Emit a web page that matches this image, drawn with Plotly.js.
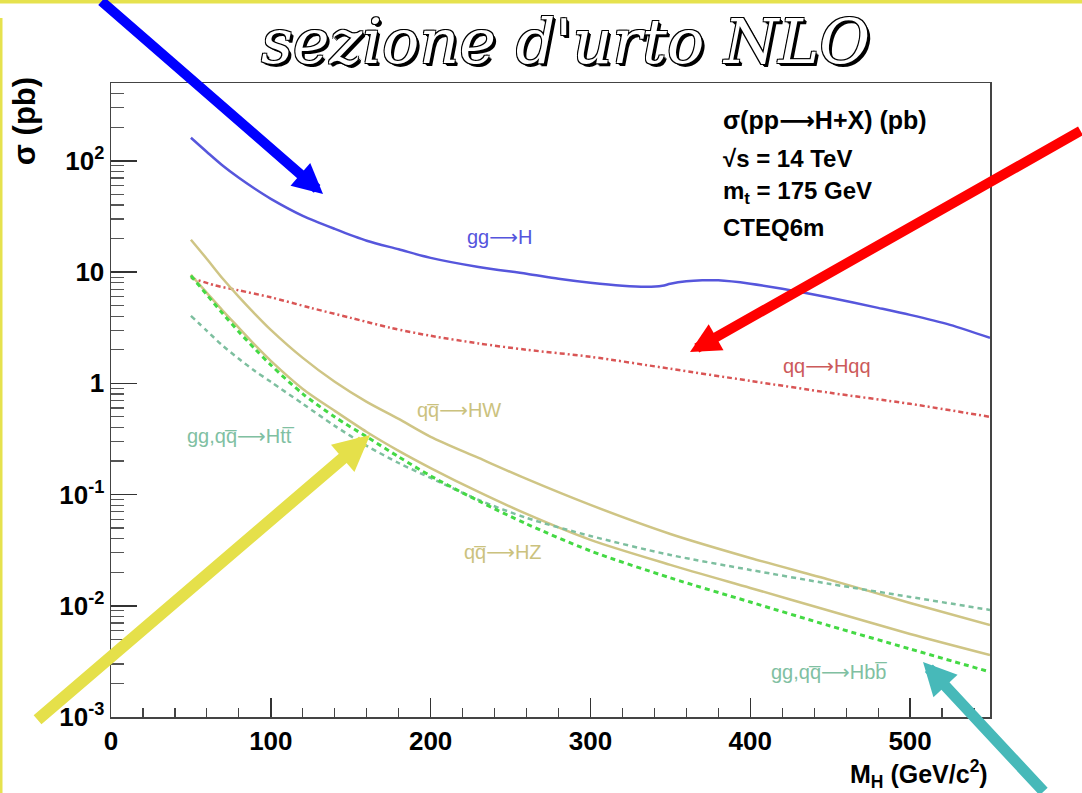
<!DOCTYPE html>
<html><head><meta charset="utf-8">
<script src="https://cdn.plot.ly/plotly-3.0.1.min.js"></script>
<style>html,body{margin:0;padding:0;background:#fff}#chart{width:1082px;height:793px}</style>
</head><body><div id="chart"></div>
<script>
// ---- data (M_H in GeV/c^2, sigma in pb) ----
const massGrid = [50,60,70,80,90,100,120,140,160,180,200,230,260,300,350,400,450,500,550];
const ggH_mass = [50,60,70,80,90,100,120,140,160,180,200,230,260,280,300,320,335,345,350,360,370,380,400,420,450,480,500,525,550];
const ggH_xs   = [161,120,90.2,70.3,56.0,45.5,32.0,24.4,19.1,16.0,13.4,11.1,9.64,8.69,8.0,7.52,7.36,7.52,7.84,8.24,8.41,8.41,7.84,7.06,5.86,4.76,4.12,3.35,2.56];
const qqHqq_mass = [50,65,80,100,125,150,175,200,230,260,300,350,400,450,500,550];
const qqHqq_xs   = [8.87,7.59,6.84,5.92,4.76,3.87,3.15,2.67,2.28,2.0,1.73,1.35,1.05,0.82,0.653,0.499];
const HW_xs  = [19.5,13.1,8.69,5.98,4.21,3.02,1.69,1.03,0.680,0.478,0.330,0.213,0.138,0.0806,0.0442,0.0269,0.0171,0.0106,0.00672];
const HZ_xs  = [9.44,6.50,4.48,3.15,2.21,1.59,0.890,0.565,0.365,0.247,0.173,0.1055,0.0669,0.0391,0.0233,0.01446,0.00898,0.00558,0.00361];
const Hbb_xs = [9.24,6.24,4.21,2.90,2.04,1.46,0.803,0.498,0.330,0.218,0.147,0.0876,0.0544,0.0311,0.0178,0.0108,0.00658,0.00409,0.00254];
const Htt_xs = [4.04,2.96,2.17,1.66,1.29,1.03,0.653,0.414,0.274,0.192,0.141,0.0894,0.0616,0.0424,0.0286,0.0210,0.0157,0.0120,0.00917];

const yTickVals = [0.001,0.01,0.1,1,10,100];
const yTickText = ['10<sup>-3</sup>','10<sup>-2</sup>','10<sup>-1</sup>','1','10','10<sup>2</sup>'];
const xTickVals = [0,100,200,300,400,500];

const ARR = '<span style="font-family:DejaVu Sans">\u27F6</span>';
const labelTexts = {
  ggH: 'gg' + ARR + 'H',
  qqHqq: 'qq' + ARR + 'Hqq',
  HW: 'qq\u0305' + ARR + 'HW',
  HZ: 'qq\u0305' + ARR + 'HZ',
  Htt: 'gg,qq\u0305' + ARR + 'Htt\u0305',
  Hbb: 'gg,qq\u0305' + ARR + 'Hbb\u0305'
};
const infoLines = ['σ(pp' + ARR + 'H+X) (pb)','√s = 14 TeV','m<sub>t</sub> = 175 GeV','CTEQ6m'];
const titleText = "sezione d'urto NLO";

// ---- styling ----
const C = {blue:'#5656dc', red:'#d95555', gold:'#cfc585', green:'#44d944', teal:'#7dbf9f', tealText:'#80c0a2', goldText:'#cbc27e', redText:'#cc5a5a', blueText:'#5555dd'};

function tr(x,y,color,width,dash){
  return {x:x,y:y,type:'scatter',mode:'lines',line:{color:color,width:width,dash:dash||'solid',shape:'spline',smoothing:0.8},hoverinfo:'skip'};
}
const data = [
  tr(ggH_mass, ggH_xs, C.blue, 2.5),
  tr(qqHqq_mass, qqHqq_xs, C.red, 2.5, '5px,3px,2px,3px'),
  tr(massGrid, HW_xs, C.gold, 2.5),
  tr(massGrid, HZ_xs, C.gold, 2.5),
  tr(massGrid, Htt_xs, C.teal, 2.5, '5px,4px'),
  tr(massGrid, Hbb_xs, C.green, 3, '5px,4px')
];

// minor tick positions for the log axis
const yMinor = [];
for (let d=-3; d<=2; d++) for (let k=2; k<=9; k++) { const v=k*Math.pow(10,d); if (v<=500) yMinor.push(v); }

const lblFont = (c)=>({family:'Liberation Sans, DejaVu Sans, sans-serif', size:20, color:c});
const ann = [];
// curve labels (data coordinates)
ann.push({x:243, y:Math.log10(20.8), text:labelTexts.ggH, font:lblFont(C.blueText)});
ann.push({x:448, y:Math.log10(1.43), text:labelTexts.qqHqq, font:lblFont(C.redText)});
ann.push({x:218, y:Math.log10(0.577), text:labelTexts.HW, font:lblFont(C.goldText)});
ann.push({x:245, y:Math.log10(0.0305), text:labelTexts.HZ, font:lblFont(C.goldText)});
ann.push({x:81, y:Math.log10(0.336), text:labelTexts.Htt, font:lblFont(C.tealText)});
ann.push({x:449, y:Math.log10(0.00254), text:labelTexts.Hbb, font:lblFont(C.tealText)});
ann.forEach(a=>{a.xref='x';a.yref='y';a.showarrow=false;a.xanchor='center';a.yanchor='middle';});

// info box text (paper coordinates)
const infoY = [0.9416,0.8817,0.8265,0.7713];
infoLines.forEach((t,i)=>ann.push({xref:'paper',yref:'paper',x:0.694,y:infoY[i],xanchor:'left',yanchor:'middle',showarrow:false,text:t,
  font:{family:'Liberation Sans, DejaVu Sans, sans-serif',size:i===0?25:24,color:'#000',weight:'bold'}}));

// axis titles
ann.push({xref:'paper',yref:'paper',x:-0.098,y:1.012,xanchor:'center',yanchor:'top',textangle:-90,showarrow:false,text:'σ (pb)',
  font:{family:'Liberation Sans, DejaVu Sans, sans-serif',size:31,color:'#000',weight:'bold'}});
ann.push({xref:'paper',yref:'paper',x:1.0,y:-0.058,xanchor:'right',yanchor:'top',showarrow:false,text:'M<sub>H</sub> (GeV/c<sup>2</sup>)',
  font:{family:'Liberation Sans, DejaVu Sans, sans-serif',size:25,color:'#000',weight:'bold'}});

// title
ann.push({xref:'paper',yref:'paper',x:0.5165,y:1.066,xanchor:'center',yanchor:'middle',showarrow:false,text:titleText,
  font:{family:'DejaVu Serif, serif',size:62,color:'#fff',style:'italic',
    shadow:'-1px -1px 0 #000, 1px -1px 0 #000, -1px 1px 0 #000, 1px 1px 0 #000, 2px 2px 0 #000, 3px 3px 0 #000'}});

// decorative arrows
function arrow(x,y,ax,ay,color,w){
  return {xref:'paper',yref:'paper',x:x,y:y,ax:ax,ay:ay,text:'',showarrow:true,arrowhead:2,arrowsize:0.6,arrowwidth:w,arrowcolor:color,standoff:0};
}
ann.push(arrow(0.2412,0.8249,-223,-202,'#0000ff',10));
ann.push(arrow(0.6587,0.5757,400,-222,'#ff0000',10));
ann.push(arrow(0.2947,0.4448,-334,286,'#e5e04a',12));
ann.push(arrow(0.9238,0.0868,122,143,'#47b9b9',11));

const shapes = [
  {type:'rect',xref:'paper',yref:'paper',x0:-0.2,x1:1.2,y0:(717-3.5)/634,y1:(717+2)/634+0.2,fillcolor:'#e6e24e',line:{width:0},layer:'above'},
  {type:'rect',xref:'paper',yref:'paper',x0:-111/879,x1:-108.5/879,y0:-0.2,y1:(717-18)/634,fillcolor:'#e6e24e',line:{width:0},layer:'above'}
];

const axFont = {family:'Liberation Sans, DejaVu Sans, sans-serif',size:26,color:'#000',weight:'bold'};
const layout = {
  width:1082, height:793,
  margin:{l:111,r:92,t:83,b:76,pad:0},
  paper_bgcolor:'#fff', plot_bgcolor:'#fff',
  showlegend:false,
  xaxis:{range:[0,550],showgrid:false,zeroline:false,showline:true,mirror:true,linecolor:'#444',linewidth:1.5,
    tickmode:'array',tickvals:xTickVals,ticks:'inside',ticklen:19,tickwidth:1.5,tickcolor:'#333',tickfont:axFont,
    minor:{dtick:20,tick0:0,ticks:'inside',ticklen:9,tickwidth:1.2,tickcolor:'#444'}},
  yaxis:{type:'log',range:[-3,Math.log10(500)],showgrid:false,zeroline:false,showline:true,mirror:true,linecolor:'#444',linewidth:1.5,
    tickmode:'array',tickvals:yTickVals,ticktext:yTickText,ticks:'inside',ticklen:26,tickwidth:1.5,tickcolor:'#333',tickfont:axFont,
    minor:{tickmode:'array',tickvals:yMinor,ticks:'inside',ticklen:13,tickwidth:1.2,tickcolor:'#555'}},
  annotations:ann,
  shapes:shapes
};
Plotly.newPlot('chart',data,layout,{displayModeBar:false,staticPlot:true});
</script></body></html>
